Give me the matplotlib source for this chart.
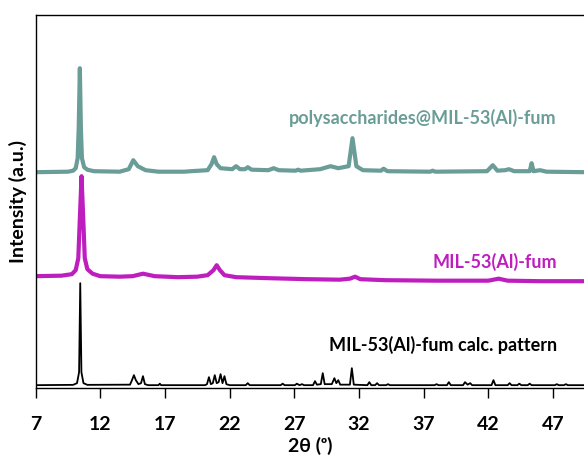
import matplotlib.pyplot as plt

plt.rcParams['font.family'] = ['Lato', 'DejaVu Sans']

# calculated pattern (black), 2theta / intensity (a.u.)
calc_tt = [7.0, 9.9, 10.2, 10.36, 10.45, 10.54, 10.7, 11.0,
           14.3, 14.45, 14.6, 14.75, 14.95, 15.15, 15.3, 15.45, 15.7,
           16.5, 16.6, 16.7, 20.1, 20.25, 20.4, 20.55, 20.7, 20.85, 21.0, 21.15, 21.3, 21.45, 21.6, 21.75,
           22.0, 23.25, 23.4, 23.55, 25.95, 26.1, 26.25, 27.05, 27.2, 27.4, 27.6, 27.75,
           28.45, 28.6, 28.75, 29.05, 29.2, 29.35, 29.9, 30.1, 30.25, 30.4, 30.55,
           31.3, 31.45, 31.6, 32.65, 32.8, 32.95, 33.25, 33.4, 33.55, 34.1, 34.25, 34.4,
           37.85, 38.0, 38.15, 38.8, 38.95, 39.1, 40.05, 40.2, 40.4, 40.6, 40.75,
           42.25, 42.4, 42.55, 43.5, 43.65, 43.8, 44.25, 44.4, 44.55, 45.05, 45.2, 45.35,
           47.15, 47.3, 47.45, 47.85, 48.0, 48.15, 49.5]
calc_int = [3, 3.3, 5, 16, 105, 16, 5, 3.3,
            3.5, 8, 13, 8, 4, 5, 12, 4, 3,
            3, 4.5, 3, 3, 4, 11, 4, 5, 13, 5, 6, 14, 5, 12, 4,
            3, 3, 5, 3, 3, 4.5, 3, 3, 4.5, 3, 4, 3,
            3, 7, 3.5, 4, 15, 4, 4, 10, 5, 8, 3.5,
            3.5, 20, 3.5, 3, 6, 3, 3, 5, 3, 3, 4, 3,
            3, 4, 3, 3, 6, 3, 3, 6, 3.5, 5, 3,
            3, 8, 3, 3, 5, 3, 3, 4.5, 3, 3, 4.5, 3,
            3, 4, 3, 3, 4, 3, 3]

# MIL-53(Al)-fum (magenta)
mil_tt = [7.0, 9.0, 9.8, 10.1, 10.3, 10.42, 10.55, 10.68, 10.8, 11.0, 11.4, 12.0,
          13.5, 14.5, 15.3, 16.2, 18.0, 19.5, 20.3, 20.75, 21.0, 21.25, 21.6, 22.5,
          25.0, 28.0, 30.5, 31.3, 31.7, 32.1, 34.0, 38.0, 42.0, 42.8, 43.5, 46.0, 49.5]
mil_int = [112, 112.5, 114, 118, 130, 170, 212, 170, 130, 119, 114.5, 112,
           111.5, 112, 114.5, 112, 111, 111.5, 113, 118, 123, 118, 113, 111,
           110, 109, 108.5, 109.5, 111.5, 109, 108, 107.5, 107.5, 109.5, 107.5, 107, 107]

# polysaccharides@MIL-53(Al)-fum (teal)
poly_tt = [7.0, 9.5, 9.9, 10.1, 10.25, 10.33, 10.42, 10.5, 10.58, 10.75, 11.0, 11.5,
           13.5, 14.2, 14.55, 14.9, 15.5, 16.5, 18.5, 19.0, 20.3, 20.6, 20.8, 21.0, 21.3,
           22.2, 22.5, 22.8, 23.2, 23.4, 23.7, 25.0, 25.4, 25.8, 27.1, 27.3, 27.5,
           29.0, 29.8, 30.4, 31.2, 31.5, 31.8, 32.3, 33.7, 33.9, 34.2,
           37.5, 37.7, 37.9, 41.9, 42.35, 42.7, 43.3, 43.6, 44.0,
           45.2, 45.35, 45.5, 46.0, 46.5, 49.5]
poly_int = [216, 216.5, 217.5, 220, 230, 260, 320, 260, 230, 221, 218.5, 217,
            216.5, 219, 228, 222, 218, 216.5, 216.5, 217, 218, 224, 231, 224, 220,
            219, 222, 219, 219, 221, 218.5, 218, 220, 218, 217.5, 218.5, 217.5,
            219, 222, 220, 222, 250, 222, 218, 217.5, 219.5, 217,
            216.5, 217.5, 216.5, 217, 223, 217.5, 218, 219, 217,
            217, 225, 217, 218, 216.5, 216]

x_ticks = [7, 12, 17, 22, 27, 32, 37, 42, 47]

teal = '#6a9d97'
magenta = '#bf1ebf'

fig = plt.figure(figsize=(5.84, 4.61), dpi=100)
ax = fig.add_axes([0.061, 0.158, 0.939, 0.809])

ax.plot(calc_tt, calc_int, color='black', lw=1.3)
ax.plot(mil_tt, mil_int, color=magenta, lw=3)
ax.plot(poly_tt, poly_int, color=teal, lw=3)

ax.text(47.3, 270, 'polysaccharides@MIL-53(Al)-fum', color=teal,
        fontsize=13, fontweight='bold', ha='right', va='center')
ax.text(47.3, 126, 'MIL-53(Al)-fum', color=magenta,
        fontsize=13, fontweight='bold', ha='right', va='center')
ax.text(47.3, 43, 'MIL-53(Al)-fum calc. pattern', color='black',
        fontsize=13, fontweight='bold', ha='right', va='center')

ax.set_xlim(7, 49.4)
ax.set_ylim(0, 373)
ax.set_xticks(x_ticks)
ax.set_yticks([])
ax.tick_params(axis='x', direction='out', length=7, width=1, labelsize=14, pad=13)
for label in ax.get_xticklabels():
    label.set_fontweight('bold')

ax.set_xlabel('2θ (ᵒ)', fontsize=14, fontweight='bold', labelpad=3)
ax.set_ylabel('Intensity (a.u.)', fontsize=14, fontweight='bold', labelpad=6)

ax.spines['right'].set_visible(False)
for s in ['left', 'top', 'bottom']:
    ax.spines[s].set_linewidth(1.0)

plt.savefig('out.png', dpi=100)
